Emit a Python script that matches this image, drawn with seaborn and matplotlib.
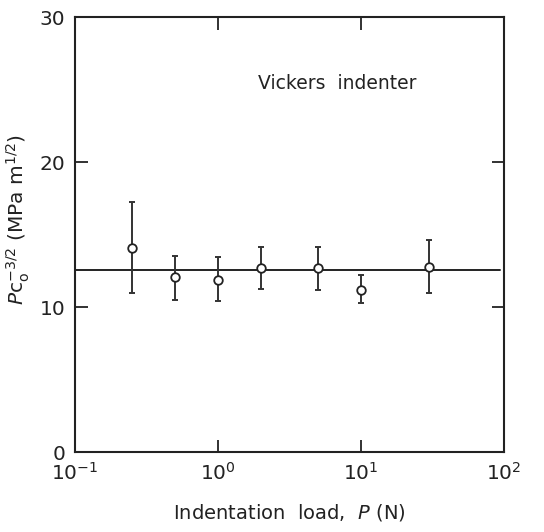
import matplotlib
matplotlib.use("Agg")
import matplotlib.pyplot as plt
import matplotlib.ticker as mticker
import numpy as np
import pandas as pd
import seaborn as sns

# values
load_n = [0.25, 0.5, 1.0, 2.0, 5.0, 10.0, 30.0]
toughness = [14.1, 12.05, 11.9, 12.7, 12.7, 11.2, 12.8]
err_upper = [17.25, 13.55, 13.45, 14.15, 14.15, 12.25, 14.6]
err_lower = [10.95, 10.5, 10.4, 11.25, 11.2, 10.3, 11.0]
mean_level = 12.55
mean_span = [0.1, 94.0]

sns.set_theme(style="ticks")
plt.rcParams["font.family"] = ["DejaVu Sans"]
plt.rcParams["mathtext.fontset"] = "dejavusans"

df = pd.DataFrame({"P": load_n, "T": toughness})
line_df = pd.DataFrame({"P": mean_span, "T": [mean_level, mean_level]})

fig = plt.figure(figsize=(5.44, 5.32), dpi=100)
ax = fig.add_axes([0.138, 0.150, 0.788, 0.818])

sns.lineplot(data=line_df, x="P", y="T", color="#222222", linewidth=1.4, ax=ax, zorder=2)

yerr = np.array([
    np.array(toughness) - np.array(err_lower),
    np.array(err_upper) - np.array(toughness),
])
ax.errorbar(load_n, toughness, yerr=yerr, fmt="none", ecolor="#333333",
            elinewidth=1.4, capsize=2, capthick=1.4, zorder=3)

sns.scatterplot(data=df, x="P", y="T", marker="o", s=38, facecolor="white",
                edgecolor="#222222", linewidth=1.3, ax=ax, zorder=4)

ax.set_xscale("log")
ax.set_xlim(0.1, 100)
ax.set_ylim(0, 30)
ax.xaxis.set_major_locator(mticker.LogLocator(base=10, numticks=10))
ax.xaxis.set_minor_locator(mticker.NullLocator())
ax.set_yticks([0, 10, 20, 30])

ax.tick_params(axis="both", which="major", direction="in", length=9, width=1.3,
               top=True, right=True, labelsize=14.5, colors="#222222", pad=7)

for side in ax.spines.values():
    side.set_linewidth(1.5)
    side.set_color("#222222")

ax.set_xlabel(r"Indentation  load,  $P$ (N)", fontsize=14, labelpad=13, color="#222222")
ax.set_ylabel(r"$P\mathrm{c}_\mathrm{o}^{-3/2}$ (MPa m$^{1/2}$)", fontsize=14.5,
              color="#222222")
ax.yaxis.set_label_coords(-0.10, 0.535)

ax.text(6.8, 25.4, "Vickers  indenter", fontsize=13.5, ha="center", va="center",
        color="#222222")

fig.savefig("out.png", dpi=100)
